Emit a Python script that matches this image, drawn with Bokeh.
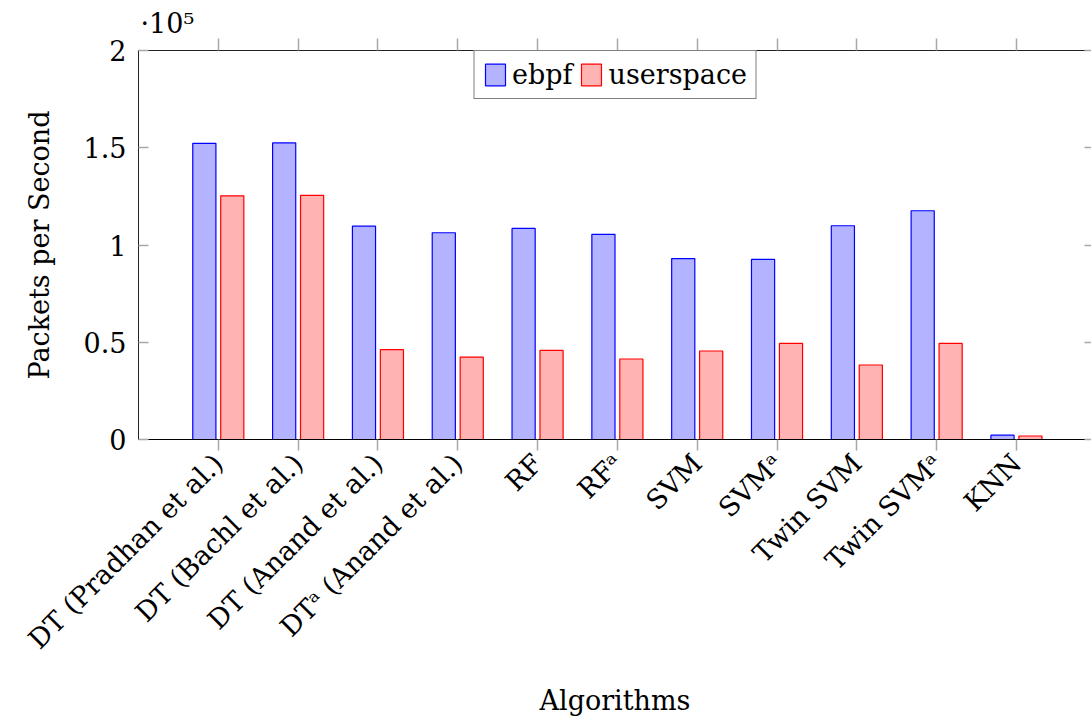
import math

from bokeh.plotting import figure
from bokeh.models import (ColumnDataSource, Range1d, FixedTicker, LinearAxis,
                          Legend, LegendItem)
from bokeh.transform import dodge
from bokeh.embed import file_html
from bokeh.resources import INLINE

# Throughput of each classifier, in packets per second
algorithms = ["DT (Pradhan et al.)", "DT (Bachl et al.)", "DT (Anand et al.)",
              "DTᵃ (Anand et al.)", "RF", "RFᵃ", "SVM", "SVMᵃ", "Twin SVM",
              "Twin SVMᵃ", "KNN"]
ebpf = [152300, 152500, 109700, 106300, 108500, 105500, 93000, 92600,
        109900, 117600, 2200]
userspace = [125300, 125500, 46200, 42400, 45800, 41400, 45500, 49400,
             38300, 49400, 1800]
y_ticks = [0, 50000, 100000, 150000, 200000]
y_tick_labels = ["0", "0.5", "1", "1.5", "2"]

FONT = "DejaVu Serif"
SIZE = "27px"
TICK_GREY = "#a8a8a8"

positions = list(range(len(algorithms)))
source = ColumnDataSource(dict(x=positions, ebpf=ebpf, userspace=userspace))

p = figure(width=1091, height=718, output_backend="svg", toolbar_location=None,
           x_range=Range1d(-1, 10.94), y_range=Range1d(0, 200000),
           min_border_left=138, min_border_top=50, min_border_right=0,
           min_border_bottom=278, outline_line_color=None,
           background_fill_color="white", border_fill_color="white",
           title="·10⁵")
p.xgrid.visible = False
p.ygrid.visible = False

# scale factor of the y axis, written above its top end
p.title.align = "left"
p.title.offset = 2
p.title.standoff = 0
p.title.text_font = FONT
p.title.text_font_size = SIZE
p.title.text_font_style = "normal"
p.title.text_color = "black"

r_ebpf = p.vbar(x=dodge("x", -0.175, range=p.x_range), top="ebpf", width=0.29,
                bottom=0, source=source, fill_color="#b3b3ff",
                line_color="#0000ff", line_width=1.2)
r_user = p.vbar(x=dodge("x", 0.175, range=p.x_range), top="userspace", width=0.29,
                bottom=0, source=source, fill_color="#ffb3b3",
                line_color="#ff0000", line_width=1.2)

# bottom axis: rotated algorithm names
xa = p.xaxis[0]
xa.ticker = FixedTicker(ticks=positions)
xa.major_label_overrides = {i: name for i, name in enumerate(algorithms)}
xa.major_label_orientation = math.pi / 4
xa.major_label_text_font = FONT
xa.major_label_text_font_size = SIZE
xa.major_label_text_color = "black"
xa.major_label_standoff = 8
xa.major_tick_out = 11
xa.major_tick_in = 0
xa.major_tick_line_color = TICK_GREY
xa.major_tick_line_width = 1.5
xa.minor_tick_line_color = None
xa.axis_line_color = "black"
xa.axis_label = "Algorithms"
xa.axis_label_text_font = FONT
xa.axis_label_text_font_size = SIZE
xa.axis_label_text_font_style = "normal"
xa.axis_label_text_color = "black"
xa.axis_label_standoff = 16

# left axis, in units of 10^5
ya = p.yaxis[0]
ya.ticker = FixedTicker(ticks=y_ticks)
ya.major_label_overrides = {t: s for t, s in zip(y_ticks, y_tick_labels)}
ya.major_label_text_font = FONT
ya.major_label_text_font_size = SIZE
ya.major_label_text_color = "black"
ya.major_label_standoff = 12
ya.major_tick_in = 10
ya.major_tick_out = 0
ya.major_tick_line_color = TICK_GREY
ya.major_tick_line_width = 1.5
ya.minor_tick_line_color = None
ya.axis_line_color = "#222222"
ya.axis_label = "Packets per Second"
ya.axis_label_text_font = FONT
ya.axis_label_text_font_size = SIZE
ya.axis_label_text_font_style = "normal"
ya.axis_label_text_color = "black"
ya.axis_label_standoff = 26

# mirrored ticks on the top and right edges, without labels
top_axis = LinearAxis(ticker=FixedTicker(ticks=positions),
                      major_label_overrides={i: "" for i in positions},
                      major_label_text_color=None, major_label_standoff=0,
                      major_tick_out=12, major_tick_in=0,
                      major_tick_line_color=TICK_GREY, major_tick_line_width=1.5,
                      minor_tick_line_color=None, axis_line_color="#222222")
p.add_layout(top_axis, "above")

right_axis = LinearAxis(ticker=FixedTicker(ticks=y_ticks),
                        major_label_overrides={t: "" for t in y_ticks},
                        major_label_text_color=None, major_label_standoff=0,
                        major_tick_out=0, major_tick_in=7,
                        major_tick_line_color=TICK_GREY, major_tick_line_width=1.5,
                        minor_tick_line_color=None, axis_line_color=None)
p.add_layout(right_axis, "right")

legend = Legend(items=[LegendItem(label="ebpf", renderers=[r_ebpf]),
                       LegendItem(label="userspace", renderers=[r_user])],
                orientation="horizontal", location="top_center", margin=0,
                border_line_color="black", border_line_width=1.2,
                label_text_font=FONT, label_text_font_size=SIZE,
                label_text_color="black",
                glyph_width=25, glyph_height=27, label_standoff=5,
                spacing=6, padding=8, background_fill_alpha=1.0)
p.add_layout(legend, "center")

open("out.html", "w").write(file_html(p, INLINE))
